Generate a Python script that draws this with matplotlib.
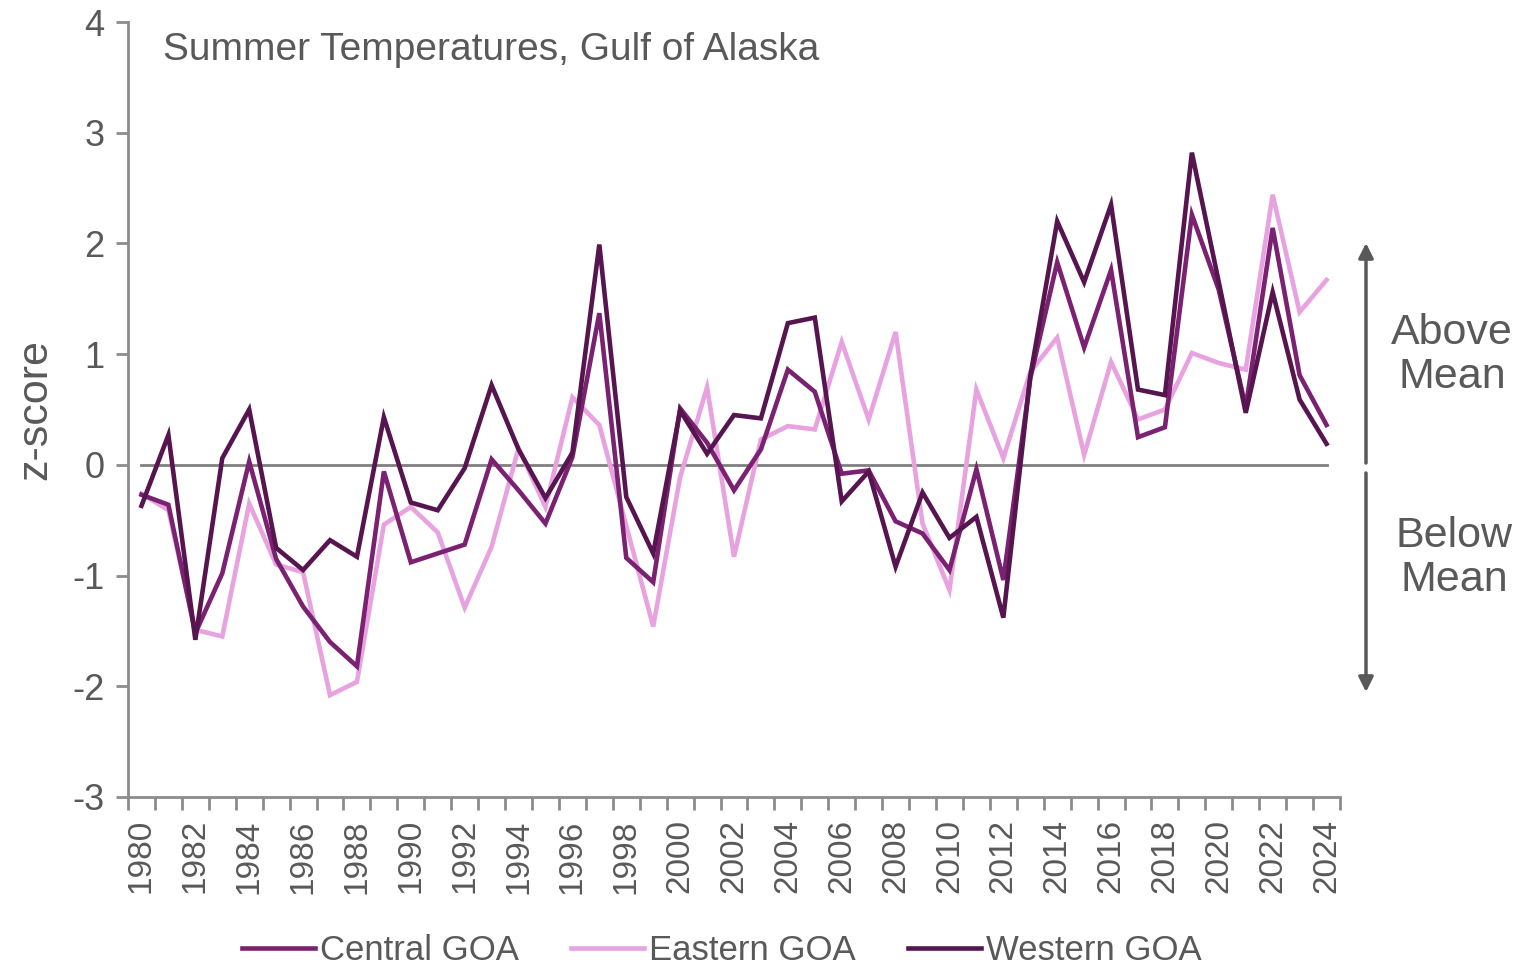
import matplotlib
matplotlib.use("Agg")
import matplotlib.pyplot as plt
from matplotlib.lines import Line2D
import numpy as np

plt.rcParams['font.family'] = ['Liberation Sans', 'DejaVu Sans']

years = list(range(1980, 2025))

central = [-0.27, -0.36, -1.52, -0.98, 0.03, -0.85, -1.28, -1.60, -1.82, -0.06,
           -0.88, -0.80, -0.72, 0.05, -0.23, -0.53, 0.07, 1.37, -0.84, -1.06,
           0.51, 0.20, -0.23, 0.14, 0.86, 0.66, -0.08, -0.05, -0.51, -0.62,
           -0.95, -0.04, -1.04, 0.78, 1.83, 1.06, 1.76, 0.25, 0.34, 2.26,
           1.58, 0.52, 2.14, 0.81, 0.36]

eastern = [-0.26, -0.41, -1.49, -1.55, -0.35, -0.90, -0.97, -2.08, -1.96, -0.54,
           -0.38, -0.61, -1.29, -0.74, 0.15, -0.38, 0.61, 0.36, -0.55, -1.46,
           -0.11, 0.70, -0.83, 0.23, 0.35, 0.32, 1.11, 0.41, 1.20, -0.53,
           -1.13, 0.68, 0.06, 0.84, 1.15, 0.09, 0.93, 0.41, 0.50, 1.01,
           0.92, 0.86, 2.44, 1.38, 1.67]

western = [-0.37, 0.27, -1.58, 0.06, 0.50, -0.75, -0.95, -0.68, -0.83, 0.43,
           -0.34, -0.41, -0.03, 0.72, 0.14, -0.30, 0.11, 1.99, -0.29, -0.80,
           0.49, 0.10, 0.45, 0.42, 1.28, 1.33, -0.33, -0.06, -0.92, -0.25,
           -0.66, -0.47, -1.38, 0.80, 2.20, 1.65, 2.35, 0.68, 0.63, 2.82,
           1.65, 0.47, 1.56, 0.59, 0.19]

series_names = ["Central GOA", "Eastern GOA", "Western GOA"]
colors = ["#7B2171", "#E8A2E0", "#56154F"]
yticks = [-3, -2, -1, 0, 1, 2, 3, 4]
title = "Summer Temperatures, Gulf of Alaska"

W, H = 1521, 968
fig = plt.figure(figsize=(W / 100, H / 100), dpi=100)
ax = fig.add_axes([128 / W, 1 - 797 / H, (1340 - 128) / W, (797 - 22) / H])

gray = "#595959"
axgray = "#8C8C8C"
x = np.arange(len(years))

ax.plot([x[0], x[-1]], [0, 0], color="#808080", lw=2, zorder=1)
# draw order: eastern, central, western
for vals, c, name in [(eastern, colors[1], series_names[1]),
                      (central, colors[0], series_names[0]),
                      (western, colors[2], series_names[2])]:
    ax.plot(x, vals, color=c, lw=3.3, zorder=2, solid_joinstyle='miter')

ax.set_xlim(-0.5, len(years) - 0.5)
ax.set_ylim(-3, 4)
ax.set_yticks(yticks)
ax.set_yticklabels([str(v) for v in yticks], fontsize=26, color=gray)
ax.tick_params(axis='y', length=9, width=2, color=axgray, pad=8)

ax.set_xticks(np.arange(-0.5, len(years), 1.0))
ax.set_xticklabels([])
ax.tick_params(axis='x', which='major', length=9, width=2, color=axgray)
ax.set_xticks(x[::2], minor=True)
ax.set_xticklabels([str(y) for y in years[::2]], minor=True, rotation=90,
                   fontsize=24, color=gray)
ax.tick_params(axis='x', which='minor', length=0, pad=16)

for s in ["top", "right"]:
    ax.spines[s].set_visible(False)
for s in ["left", "bottom"]:
    ax.spines[s].set_color(axgray)
    ax.spines[s].set_linewidth(2)

ax.set_ylabel("z-score", fontsize=31, color=gray, labelpad=12)
ax.text(163 / W, 1 - 50 / H, title, transform=fig.transFigure, fontsize=28,
        color=gray, va="center", ha="left")

# Above / Below mean annotations
ax.annotate("", xy=(1366 / W, 1 - 243 / H), xytext=(1366 / W, 1 - 463 / H),
            xycoords=fig.transFigure, textcoords=fig.transFigure,
            arrowprops=dict(arrowstyle="-|>", color=gray, lw=2.5,
                            mutation_scale=22, shrinkA=0, shrinkB=0))
ax.annotate("", xy=(1366 / W, 1 - 692 / H), xytext=(1366 / W, 1 - 473 / H),
            xycoords=fig.transFigure, textcoords=fig.transFigure,
            arrowprops=dict(arrowstyle="-|>", color=gray, lw=2.5,
                            mutation_scale=22, shrinkA=0, shrinkB=0))
fig.text(1452 / W, 1 - 355 / H, "Above\nMean", fontsize=31, color=gray,
         ha="center", va="center", linespacing=1.1)
fig.text(1454 / W, 1 - 558 / H, "Below\nMean", fontsize=31, color=gray,
         ha="center", va="center", linespacing=1.1)

handles = [Line2D([0], [0], color=c, lw=3.3) for c in colors]
fig.legend(handles, series_names, loc="center", bbox_to_anchor=(722 / W, 1 - 951 / H),
           ncol=3, frameon=False, fontsize=25, labelcolor=gray, handlelength=2.1,
           handletextpad=0.15, columnspacing=1.5)

fig.savefig("out.png", dpi=100)
